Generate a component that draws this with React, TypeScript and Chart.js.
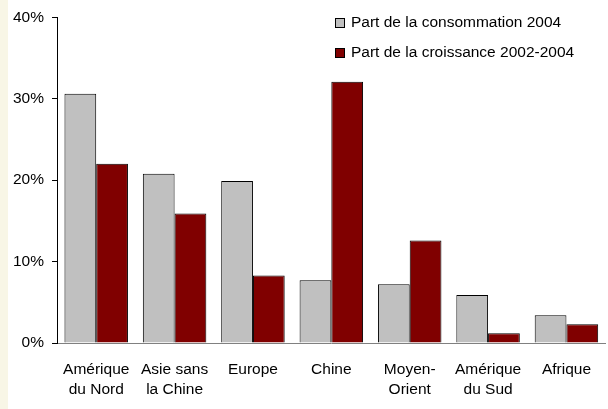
import React, { useEffect, useRef } from "react";
import { Chart, registerables } from "chart.js";

Chart.register(...registerables);

const categories: string[][] = [
  ["Amérique", "du Nord"],
  ["Asie sans", "la Chine"],
  ["Europe"],
  ["Chine"],
  ["Moyen-", "Orient"],
  ["Amérique", "du Sud"],
  ["Afrique"],
];

const consommation2004 = [30.6, 20.8, 19.9, 7.7, 7.2, 5.9, 3.4];
const croissance2002_2004 = [22.0, 15.9, 8.3, 32.1, 12.6, 1.2, 2.3];

const seriesLabels = [
  "Part de la consommation 2004",
  "Part de la croissance 2002-2004",
];

const yTicks = [0, 10, 20, 30, 40];

const FONT = "Arial, 'Liberation Sans', sans-serif";
const FONT_SIZE = 15.5;

// Legend drawn as a small boxed list in the upper right of the plot
const cornerLegend = {
  id: "cornerLegend",
  afterDraw(chart: any) {
    const ctx = chart.ctx;
    ctx.save();
    ctx.font = `${FONT_SIZE}px ${FONT}`;
    ctx.textBaseline = "middle";
    ctx.textAlign = "left";
    chart.data.datasets.forEach((ds: any, i: number) => {
      const y = 23 + i * 30;
      ctx.fillStyle = ds.backgroundColor;
      ctx.fillRect(335.5, y - 4.5, 9, 9);
      ctx.strokeStyle = "#000";
      ctx.lineWidth = 1;
      ctx.strokeRect(335.5, y - 4.5, 9, 9);
      ctx.fillStyle = "#000";
      ctx.fillText(ds.label, 351, y);
    });
    ctx.restore();
  },
};

export default function App() {
  const ref = useRef<HTMLCanvasElement>(null);

  useEffect(() => {
    document.body.style.margin = "0";
    const chart = new Chart(ref.current!, {
      type: "bar",
      data: {
        labels: categories,
        datasets: [
          {
            label: seriesLabels[0],
            data: consommation2004,
            backgroundColor: "#C0C0C0",
            borderColor: "#000",
            borderWidth: 1,
          },
          {
            label: seriesLabels[1],
            data: croissance2002_2004,
            backgroundColor: "#800000",
            borderColor: "#000",
            borderWidth: 1,
          },
        ],
      },
      options: {
        animation: false,
        responsive: false,
        maintainAspectRatio: false,
        layout: { padding: { top: 6, right: 0, left: 5, bottom: 10 } },
        plugins: {
          legend: { display: false },
          tooltip: { enabled: false },
        },
        datasets: {
          bar: { categoryPercentage: 0.81, barPercentage: 1 },
        },
        scales: {
          x: {
            grid: { display: false, drawTicks: false },
            border: { display: true, color: "#808080", width: 1 },
            afterFit: (scale: any) => {
              scale.height = 56;
            },
            ticks: {
              color: "#000",
              font: { family: FONT, size: FONT_SIZE, lineHeight: 1.29 },
              padding: 17,
              maxRotation: 0,
              autoSkip: false,
            },
          },
          y: {
            min: 0,
            max: 40,
            afterBuildTicks: (scale: any) => {
              scale.ticks = yTicks.map((v) => ({ value: v }));
            },
            grid: {
              drawOnChartArea: false,
              drawTicks: true,
              tickLength: 5,
              color: "#000",
            },
            border: { display: true, color: "#000", width: 1 },
            ticks: {
              color: "#000",
              font: { family: FONT, size: FONT_SIZE },
              padding: 8,
              callback: (v: any) => `${v}%`,
            },
          },
        },
      },
      plugins: [cornerLegend],
    });
    return () => chart.destroy();
  }, []);

  return (
    <div
      style={{
        position: "fixed",
        left: 0,
        top: 0,
        width: 608,
        height: 409,
        background: "linear-gradient(to right, #F8F6E6 0, #F8F6E6 8px, #fff 8px)",
      }}
    >
      <canvas ref={ref} width={608} height={409} style={{ display: "block" }} />
    </div>
  );
}
